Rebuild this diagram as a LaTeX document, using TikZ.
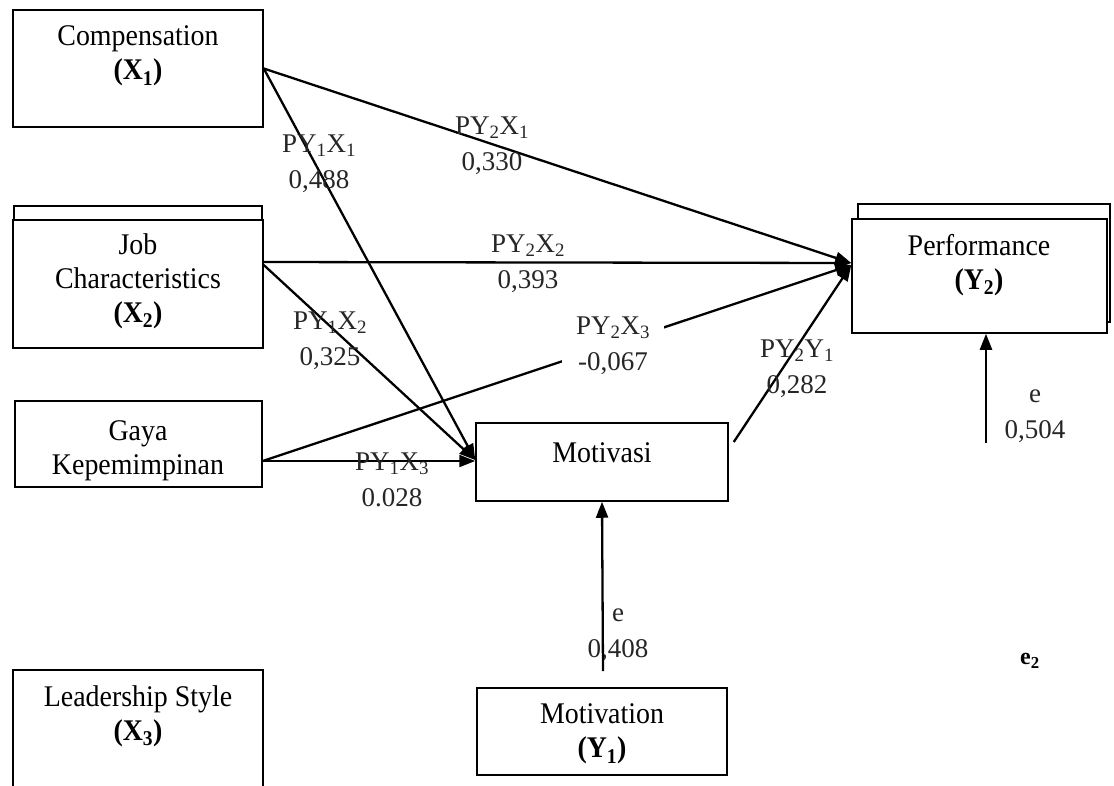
\documentclass[tikz,border=0pt]{standalone}
\usepackage{fontspec}
\setmainfont{Liberation Serif}
\newfontfamily\boxfont{Liberation Serif}[FakeStretch=0.93]
\usetikzlibrary{arrows.meta}
\begin{document}
\begin{tikzpicture}[x=1pt,y=-1pt,
  box/.style={draw,line width=1.5pt,fill=white,inner sep=0pt},
  txt/.style={font=\boxfont\fontsize{30}{34}\selectfont,align=center,inner sep=0pt},
  lbl/.style={font=\fontsize{27}{36}\selectfont,align=center,inner sep=1pt,text=black!85},
  arr/.style={line width=2.3pt,-{Triangle[length=16pt,width=12pt]}}]
\useasboundingbox (0,0) rectangle (1114,785);
\fill[white] (0,0) rectangle (1114,785);
% boxes
\node[box,minimum width=250pt,minimum height=117pt] (comp) at (138,68.5) {};
\node[box,minimum width=248pt,minimum height=128pt] (jobback) at (138,270) {};
\node[box,minimum width=250pt,minimum height=128pt] (job) at (138,284) {};
\node[box,minimum width=247pt,minimum height=86pt] (gaya) at (138.5,444) {};
\node[box,minimum width=250pt,minimum height=130pt] (lead) at (138,735) {};
\node[box,minimum width=252pt,minimum height=78pt] (motivasi) at (602,462) {};
\node[box,minimum width=252pt,minimum height=118pt] (perfback) at (984,263) {};
\node[box,minimum width=255pt,minimum height=114pt] (perf) at (979.5,276) {};
\node[box,minimum width=250pt,minimum height=87pt] (motivation) at (602,731.5) {};
% box texts
\node[txt] (tcomp) at (138,56) {Compensation\\\textbf{(X\textsubscript{1})}};
\node[txt] (tjob) at (138,281) {Job\\Characteristics\\\textbf{(X\textsubscript{2})}};
\node[txt] (tgaya) at (138,451) {Gaya\\Kepemimpinan};
\node[txt] (tlead) at (138,716) {Leadership Style\\\textbf{(X\textsubscript{3})}};
\node[txt] (tmotivasi) at (602,453) {Motivasi};
\node[txt] (tperf) at (979,265) {Performance\\\textbf{(Y\textsubscript{2})}};
\node[txt] (tmotivation) at (602,734) {Motivation\\\textbf{(Y\textsubscript{1})}};
% free ends
\coordinate (e1) at (603,671);
\coordinate (e2c) at (986,443);
% connectors
\draw[arr] (comp.east) -- ([yshift=2pt]motivasi.west);
\draw[arr] (comp.east) -- ([yshift=13pt]perf.west);
\draw[arr] ([yshift=22pt]job.east) -- ([yshift=13pt]perf.west);
\draw[arr] ([yshift=19pt]job.east) -- ([yshift=2pt]motivasi.west);
\draw[arr] ([yshift=-17pt]gaya.east) -- ([yshift=1pt]motivasi.west);
\draw[arr] ([yshift=-17pt]gaya.east) -- ([yshift=11pt]perf.west);
\draw[arr] ([xshift=5pt,yshift=20pt]motivasi.east) -- ([yshift=11pt]perf.west);
\draw[arr] (e2c) -- ([xshift=6.5pt]perf.south);
% labels
\node[lbl] (l11) at (319,164) {PY\textsubscript{1}X\textsubscript{1}\\0,488};
\node[lbl] (l21) at (492,146) {PY\textsubscript{2}X\textsubscript{1}\\0,330};
\node[lbl] (l22) at (528,264) {PY\textsubscript{2}X\textsubscript{2}\\0,393};
\node[lbl] (l12) at (330,341) {PY\textsubscript{1}X\textsubscript{2}\\0,325};
\node[lbl,fill=white,inner xsep=14pt,inner ysep=0pt] (l23) at (613,346) {PY\textsubscript{2}X\textsubscript{3}\\-0,067};
\node[lbl] (l2y) at (797,369) {PY\textsubscript{2}Y\textsubscript{1}\\0,282};
\node[lbl] (l13) at (392,480) {PY\textsubscript{1}X\textsubscript{3}\\0.028};
\node[lbl] (le2) at (1035,416) {e\\0,504};
\node[lbl] (le1) at (618,635) {e\\0,408};
\node[font=\fontsize{24}{28}\selectfont\bfseries,inner sep=0pt] (e2) at (1030,661) {e\textsubscript{2}};
\draw[arr] (e1) -- (motivasi.south);
\end{tikzpicture}
\end{document}
